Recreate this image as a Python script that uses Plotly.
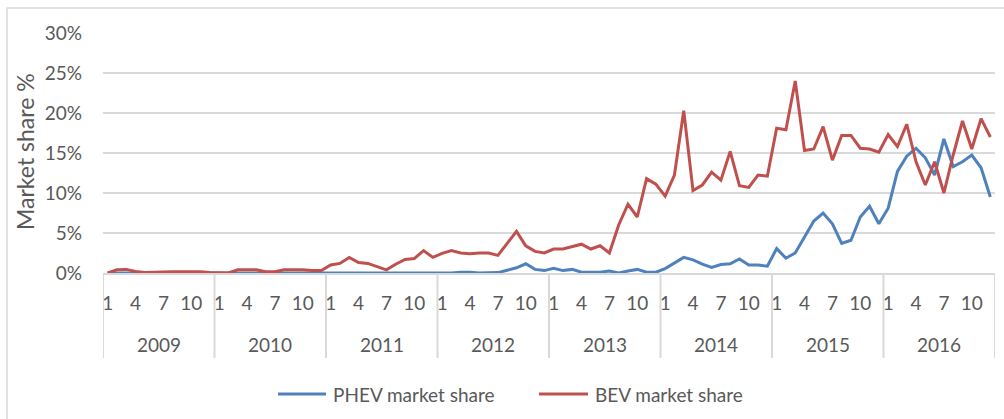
import plotly.graph_objects as go

years = ["2009", "2010", "2011", "2012", "2013", "2014", "2015", "2016"]
month_labels = ["1", "4", "7", "10"]
month_label_offsets = [0, 3, 6, 9]

phev_share = [
    # 2009
    0, 0, 0, 0, 0, 0, 0, 0, 0, 0, 0, 0,
    # 2010
    0, 0, 0, 0, 0, 0, 0, 0, 0, 0, 0, 0,
    # 2011
    0, 0, 0, 0, 0, 0, 0, 0, 0, 0, 0, 0,
    # 2012
    0, 0, 0.1, 0.1, 0, 0, 0.05, 0.35, 0.65, 1.15, 0.45, 0.3,
    # 2013
    0.6, 0.3, 0.45, 0.1, 0.1, 0.1, 0.25, 0, 0.25, 0.45, 0.1, 0.1,
    # 2014
    0.55, 1.25, 1.95, 1.65, 1.1, 0.7, 1.05, 1.15, 1.75, 1.0, 1.0, 0.85,
    # 2015
    3.05, 1.85, 2.5, 4.5, 6.5, 7.5, 6.15, 3.7, 4.1, 7.0, 8.35, 6.15,
    # 2016
    8.1, 12.7, 14.6, 15.6, 14.4, 12.25, 16.75, 13.3, 13.9, 14.75, 13.15, 9.5,
]

bev_share = [
    # 2009
    0, 0.4, 0.45, 0.2, 0.05, 0.1, 0.15, 0.15, 0.15, 0.15, 0.15, 0.05,
    # 2010
    0, 0, 0.4, 0.4, 0.4, 0.15, 0.15, 0.4, 0.4, 0.4, 0.3, 0.3,
    # 2011
    1.0, 1.2, 1.95, 1.3, 1.2, 0.8, 0.4, 1.1, 1.7, 1.8, 2.8, 1.95,
    # 2012
    2.45, 2.8, 2.5, 2.4, 2.5, 2.5, 2.2, 3.7, 5.2, 3.4, 2.7, 2.5,
    # 2013
    3.0, 3.0, 3.3, 3.6, 3.0, 3.4, 2.5, 6.0, 8.6, 7.0, 11.8, 11.1,
    # 2014
    9.6, 12.25, 20.3, 10.3, 11.0, 12.6, 11.6, 15.2, 10.9, 10.7, 12.25, 12.1,
    # 2015
    18.1, 17.9, 24.0, 15.3, 15.5, 18.3, 14.1, 17.2, 17.2, 15.6, 15.5, 15.1,
    # 2016
    17.3, 15.8, 18.6, 13.9, 11.0, 13.9, 10.0, 14.75, 19.0, 15.5, 19.3, 17.0,
]

series_names = ["PHEV market share", "BEV market share"]
series_colors = ["#4F81BD", "#C0504D"]

months = list(range(len(bev_share)))

W, H = 1004, 419
PL, PR, PT, PB = 103, 995, 33, 273  # plot area in pixels


def px_x(p):
    return (p - PL) / (PR - PL)


def px_y(p):
    return (PB - p) / (PB - PT)


FONT = "Lato, 'Open Sans', sans-serif"
TXT = "#595959"
GRID = "#D9D9D9"

fig = go.Figure()
for name, vals, col in zip(series_names, [phev_share, bev_share], series_colors):
    fig.add_trace(go.Scatter(
        x=months, y=vals, mode="lines", name=name,
        line=dict(color=col, width=3), showlegend=False,
    ))

tickvals = []
ticktext = []
for k in range(len(years)):
    for off, lab in zip(month_label_offsets, month_labels):
        tickvals.append(12 * k + off)
        ticktext.append(lab)

fig.update_layout(
    width=W, height=H,
    margin=dict(l=PL, r=W - PR, t=PT, b=H - PB),
    paper_bgcolor="white", plot_bgcolor="white",
    font=dict(family=FONT, size=19, color=TXT),
    xaxis=dict(
        range=[-0.5, len(months) - 0.5],
        tickvals=tickvals, ticktext=ticktext, tickangle=0,
        showgrid=False, zeroline=False,
        showline=True, linecolor=GRID, linewidth=2,
        ticks="", ticklabelstandoff=12,
        tickfont=dict(family=FONT, size=19, color=TXT),
    ),
    yaxis=dict(
        range=[0, 30], dtick=5, ticksuffix="%",
        showgrid=True, gridcolor=GRID, gridwidth=2,
        zeroline=False, showline=False, ticks="",
        ticklabelstandoff=20,
        tickfont=dict(family=FONT, size=19, color=TXT),
    ),
)

shapes = []
# year separators
for k in range(len(years) + 1):
    shapes.append(dict(
        type="line", xref="x", yref="paper",
        x0=12 * k - 0.5, x1=12 * k - 0.5, y0=0, y1=px_y(358),
        line=dict(color=GRID, width=2),
    ))
# outer chart border (left/top visible)
shapes.append(dict(
    type="rect", xref="paper", yref="paper",
    x0=px_x(7), x1=px_x(1012), y0=px_y(8), y1=px_y(430),
    line=dict(color=GRID, width=1.5), fillcolor="rgba(0,0,0,0)", layer="below",
))

annotations = []
for k, yr in enumerate(years):
    annotations.append(dict(
        x=12 * k + 5.5, y=px_y(344), xref="x", yref="paper",
        text=yr, showarrow=False, font=dict(family=FONT, size=19, color=TXT),
        xanchor="center", yanchor="middle",
    ))
annotations.append(dict(
    x=px_x(25), y=px_y(152), xref="paper", yref="paper",
    text="Market share %", textangle=-90, showarrow=False,
    font=dict(family=FONT, size=23, color=TXT),
    xanchor="center", yanchor="middle",
))

# manual legend
legend_y = 394
legend_items = [(278, 326, 331), (539, 588, 593)]
for (lx0, lx1, tx), name, col in zip(legend_items, series_names, series_colors):
    shapes.append(dict(
        type="line", xref="paper", yref="paper",
        x0=px_x(lx0), x1=px_x(lx1), y0=px_y(legend_y), y1=px_y(legend_y),
        line=dict(color=col, width=3),
    ))
    annotations.append(dict(
        x=px_x(tx), y=px_y(legend_y), xref="paper", yref="paper",
        text=name, showarrow=False, font=dict(family=FONT, size=19, color=TXT),
        xanchor="left", yanchor="middle",
    ))

fig.update_layout(shapes=shapes, annotations=annotations)

fig.write_html(
    "out.html",
    config={"displayModeBar": False},
    post_script="document.body.style.margin='0';document.body.style.overflow='hidden';",
)
